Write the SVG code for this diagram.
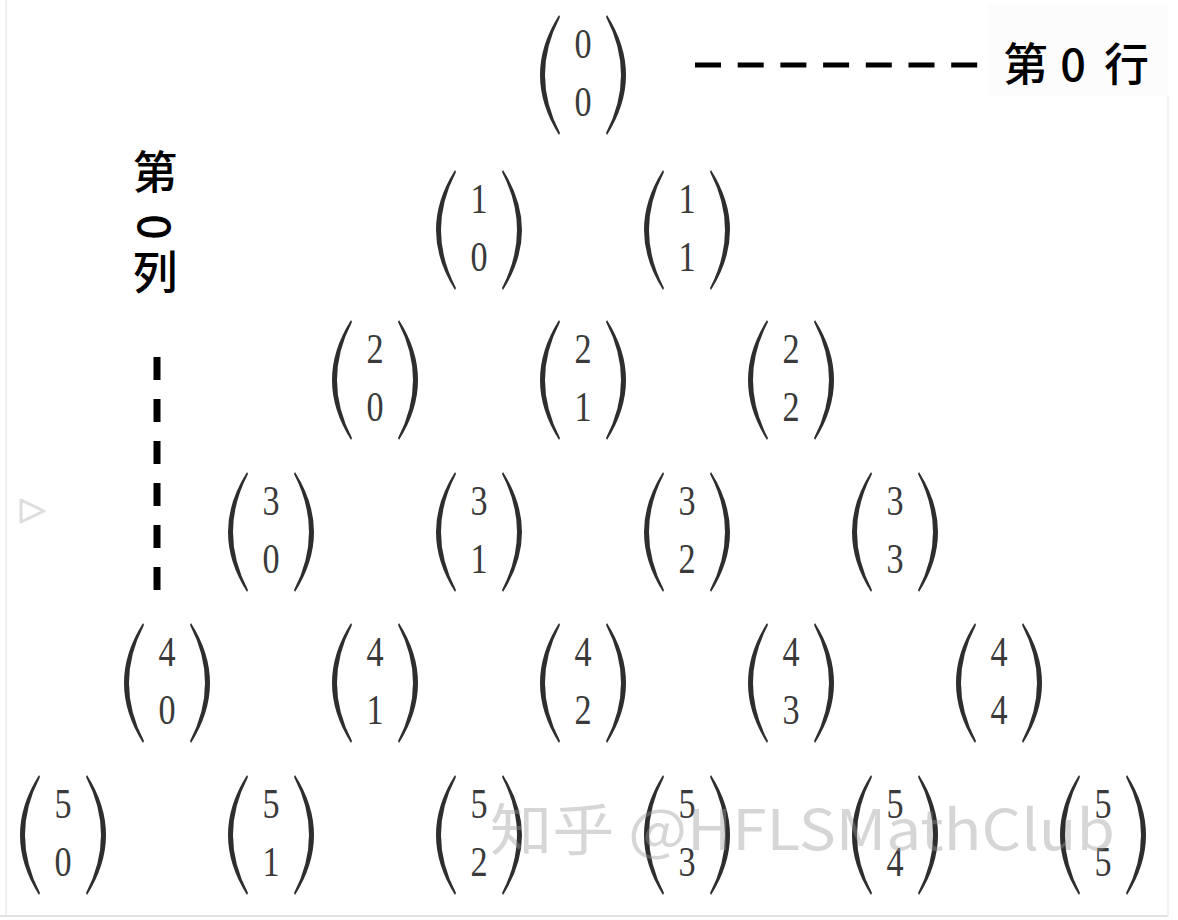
<svg xmlns="http://www.w3.org/2000/svg" xmlns:xlink="http://www.w3.org/1999/xlink" width="1178" height="920" viewBox="0 0 1178 920">
<style>
.d{font-family:"Liberation Serif","DejaVu Serif",serif;font-size:36px;fill:#3a3a3a;text-anchor:middle}
.lbl{font-family:"Noto Sans CJK SC","Noto Sans",sans-serif;font-size:45px;font-weight:500;fill:#000}
.dash{stroke:#000;fill:none}
.wm{font-family:"Noto Sans CJK SC","Liberation Sans",sans-serif;font-size:56px;fill:#999;fill-opacity:0.4}
</style>
<defs>
<g id="par">
<path d="M -24,-60 Q -62,0 -24,60 L -23,58 Q -53,0 -23,-58 Z" fill="#2e2e2e"/>
<path d="M 24,-60 Q 62,0 24,60 L 23,58 Q 53,0 23,-58 Z" fill="#2e2e2e"/>
</g>
</defs>
<rect width="1178" height="920" fill="#fff"/>
<rect x="988" y="4" width="180" height="92" fill="#fcfcfc"/>
<line x1="6" y1="0" x2="6" y2="916" stroke="#f0f0f0" stroke-width="2"/>
<line x1="0" y1="916" x2="1168" y2="916" stroke="#e2e2e2" stroke-width="2"/>
<line x1="1168" y1="96" x2="1168" y2="916" stroke="#f2f2f2" stroke-width="2"/>
<path d="M 21,500 L 44,511 L 21,522 Z" fill="none" stroke="#ddd" stroke-width="3" stroke-linejoin="round"/>

<g id="connectors">
<line class="dash" x1="695" y1="65" x2="980" y2="65" stroke-width="5" stroke-dasharray="26 16.7"/>
<line class="dash" x1="157" y1="357" x2="157" y2="590" stroke-width="7" stroke-dasharray="23 19"/>
</g>

<g id="label-row">
<text class="lbl" x="1003" y="81">第</text>
<text class="lbl" x="1073" y="81" text-anchor="middle">0</text>
<text class="lbl" x="1104" y="81">行</text>
</g>
<g id="label-col">
<text class="lbl" x="155" y="189" text-anchor="middle">第</text>
<text class="lbl" transform="translate(157,227) rotate(90)" text-anchor="middle" dominant-baseline="central">0</text>
<text class="lbl" x="155" y="289" text-anchor="middle">列</text>
</g>

<g id="n0_0" transform="translate(583,75)"><use xlink:href="#par"/><text class="d" transform="translate(0,-17) scale(0.95,1.15)">0</text><text class="d" transform="translate(0,41) scale(0.95,1.15)">0</text></g>

<g id="n1_0" transform="translate(479,230)"><use xlink:href="#par"/><text class="d" transform="translate(0,-17) scale(0.95,1.15)">1</text><text class="d" transform="translate(0,41) scale(0.95,1.15)">0</text></g>
<g id="n1_1" transform="translate(687,230)"><use xlink:href="#par"/><text class="d" transform="translate(0,-17) scale(0.95,1.15)">1</text><text class="d" transform="translate(0,41) scale(0.95,1.15)">1</text></g>

<g id="n2_0" transform="translate(375,380)"><use xlink:href="#par"/><text class="d" transform="translate(0,-17) scale(0.95,1.15)">2</text><text class="d" transform="translate(0,41) scale(0.95,1.15)">0</text></g>
<g id="n2_1" transform="translate(583,380)"><use xlink:href="#par"/><text class="d" transform="translate(0,-17) scale(0.95,1.15)">2</text><text class="d" transform="translate(0,41) scale(0.95,1.15)">1</text></g>
<g id="n2_2" transform="translate(791,380)"><use xlink:href="#par"/><text class="d" transform="translate(0,-17) scale(0.95,1.15)">2</text><text class="d" transform="translate(0,41) scale(0.95,1.15)">2</text></g>

<g id="n3_0" transform="translate(271,532)"><use xlink:href="#par"/><text class="d" transform="translate(0,-17) scale(0.95,1.15)">3</text><text class="d" transform="translate(0,41) scale(0.95,1.15)">0</text></g>
<g id="n3_1" transform="translate(479,532)"><use xlink:href="#par"/><text class="d" transform="translate(0,-17) scale(0.95,1.15)">3</text><text class="d" transform="translate(0,41) scale(0.95,1.15)">1</text></g>
<g id="n3_2" transform="translate(687,532)"><use xlink:href="#par"/><text class="d" transform="translate(0,-17) scale(0.95,1.15)">3</text><text class="d" transform="translate(0,41) scale(0.95,1.15)">2</text></g>
<g id="n3_3" transform="translate(895,532)"><use xlink:href="#par"/><text class="d" transform="translate(0,-17) scale(0.95,1.15)">3</text><text class="d" transform="translate(0,41) scale(0.95,1.15)">3</text></g>

<g id="n4_0" transform="translate(167,683)"><use xlink:href="#par"/><text class="d" transform="translate(0,-17) scale(0.95,1.15)">4</text><text class="d" transform="translate(0,41) scale(0.95,1.15)">0</text></g>
<g id="n4_1" transform="translate(375,683)"><use xlink:href="#par"/><text class="d" transform="translate(0,-17) scale(0.95,1.15)">4</text><text class="d" transform="translate(0,41) scale(0.95,1.15)">1</text></g>
<g id="n4_2" transform="translate(583,683)"><use xlink:href="#par"/><text class="d" transform="translate(0,-17) scale(0.95,1.15)">4</text><text class="d" transform="translate(0,41) scale(0.95,1.15)">2</text></g>
<g id="n4_3" transform="translate(791,683)"><use xlink:href="#par"/><text class="d" transform="translate(0,-17) scale(0.95,1.15)">4</text><text class="d" transform="translate(0,41) scale(0.95,1.15)">3</text></g>
<g id="n4_4" transform="translate(999,683)"><use xlink:href="#par"/><text class="d" transform="translate(0,-17) scale(0.95,1.15)">4</text><text class="d" transform="translate(0,41) scale(0.95,1.15)">4</text></g>

<g id="n5_0" transform="translate(63,835)"><use xlink:href="#par"/><text class="d" transform="translate(0,-17) scale(0.95,1.15)">5</text><text class="d" transform="translate(0,41) scale(0.95,1.15)">0</text></g>
<g id="n5_1" transform="translate(271,835)"><use xlink:href="#par"/><text class="d" transform="translate(0,-17) scale(0.95,1.15)">5</text><text class="d" transform="translate(0,41) scale(0.95,1.15)">1</text></g>
<g id="n5_2" transform="translate(479,835)"><use xlink:href="#par"/><text class="d" transform="translate(0,-17) scale(0.95,1.15)">5</text><text class="d" transform="translate(0,41) scale(0.95,1.15)">2</text></g>
<g id="n5_3" transform="translate(687,835)"><use xlink:href="#par"/><text class="d" transform="translate(0,-17) scale(0.95,1.15)">5</text><text class="d" transform="translate(0,41) scale(0.95,1.15)">3</text></g>
<g id="n5_4" transform="translate(895,835)"><use xlink:href="#par"/><text class="d" transform="translate(0,-17) scale(0.95,1.15)">5</text><text class="d" transform="translate(0,41) scale(0.95,1.15)">4</text></g>
<g id="n5_5" transform="translate(1103,835)"><use xlink:href="#par"/><text class="d" transform="translate(0,-17) scale(0.95,1.15)">5</text><text class="d" transform="translate(0,41) scale(0.95,1.15)">5</text></g>

<g id="watermark">
<text class="wm" x="490" y="850" textLength="625" lengthAdjust="spacingAndGlyphs">知乎 @HFLSMathClub</text>
</g>
</svg>
